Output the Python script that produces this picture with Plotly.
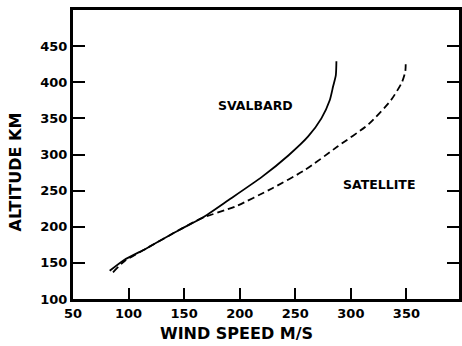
import plotly.graph_objects as go

# Data
svalbard_speed = [83, 96, 116, 145.5, 166, 190, 220, 244, 261.6, 273.5, 281, 284, 286.5, 287]
svalbard_alt = [139, 154, 170, 195.5, 212, 237, 269, 299, 325, 350, 375, 394, 410, 429]

satellite_speed = [86, 96, 116, 145.5, 166, 196, 229, 258.7, 288, 316, 336, 346, 349, 349.4]
satellite_alt = [137, 152, 170, 195.5, 212, 228, 253, 278.5, 311, 342, 375, 400, 415, 430]

x_ticks = [50, 100, 150, 200, 250, 300, 350]
y_ticks = [100, 150, 200, 250, 300, 350, 400, 450]

FONT = "DejaVu Sans"

fig = go.Figure()
fig.add_trace(go.Scatter(x=svalbard_speed, y=svalbard_alt, mode="lines",
                         line=dict(color="black", width=1.8, shape="spline", smoothing=0.6),
                         showlegend=False, hoverinfo="skip"))
fig.add_trace(go.Scatter(x=satellite_speed, y=satellite_alt, mode="lines",
                         line=dict(color="black", width=1.8, dash="7px,4px", shape="spline", smoothing=0.6),
                         showlegend=False, hoverinfo="skip"))

fig.add_annotation(x=214, y=368, text="SVALBARD", showarrow=False,
                   font=dict(family=FONT, size=12.5, color="black", weight="bold"))
fig.add_annotation(x=325, y=259, text="SATELLITE", showarrow=False,
                   font=dict(family=FONT, size=12.5, color="black", weight="bold"))

fig.add_annotation(xref="paper", yref="paper", x=(16 - 73) / 389, y=(299 - 172) / 289,
                   xanchor="center", yanchor="middle",
                   text="ALTITUDE KM", textangle=-90, showarrow=False,
                   font=dict(family=FONT, size=16, color="black", weight="bold"))
fig.add_annotation(xref="paper", yref="paper", x=(237.5 - 73) / 389, y=(299 - 333) / 289,
                   xanchor="center", yanchor="middle",
                   text="WIND SPEED M/S", showarrow=False,
                   font=dict(family=FONT, size=16, color="black", weight="bold"))

fig.update_xaxes(range=[50, 397.3], tickvals=x_ticks, ticktext=[str(v) for v in x_ticks],
                 showline=True, linecolor="black", linewidth=3, mirror=True,
                 ticks="inside", ticklen=11, tickwidth=1.5, tickcolor="black",
                 showgrid=False, zeroline=False,
                 tickfont=dict(family=FONT, size=13, color="black", weight="bold"))
fig.update_yaxes(range=[100, 500], tickvals=y_ticks, ticktext=[str(v) for v in y_ticks],
                 showline=True, linecolor="black", linewidth=3, mirror="ticks",
                 ticks="inside", ticklen=12, tickwidth=1.5, tickcolor="black",
                 showgrid=False, zeroline=False,
                 tickfont=dict(family=FONT, size=13, color="black", weight="bold"))

fig.update_layout(width=462, height=346, margin=dict(l=73, r=0, t=10, b=47),
                  plot_bgcolor="white", paper_bgcolor="white")

fig.write_html("out.html")
